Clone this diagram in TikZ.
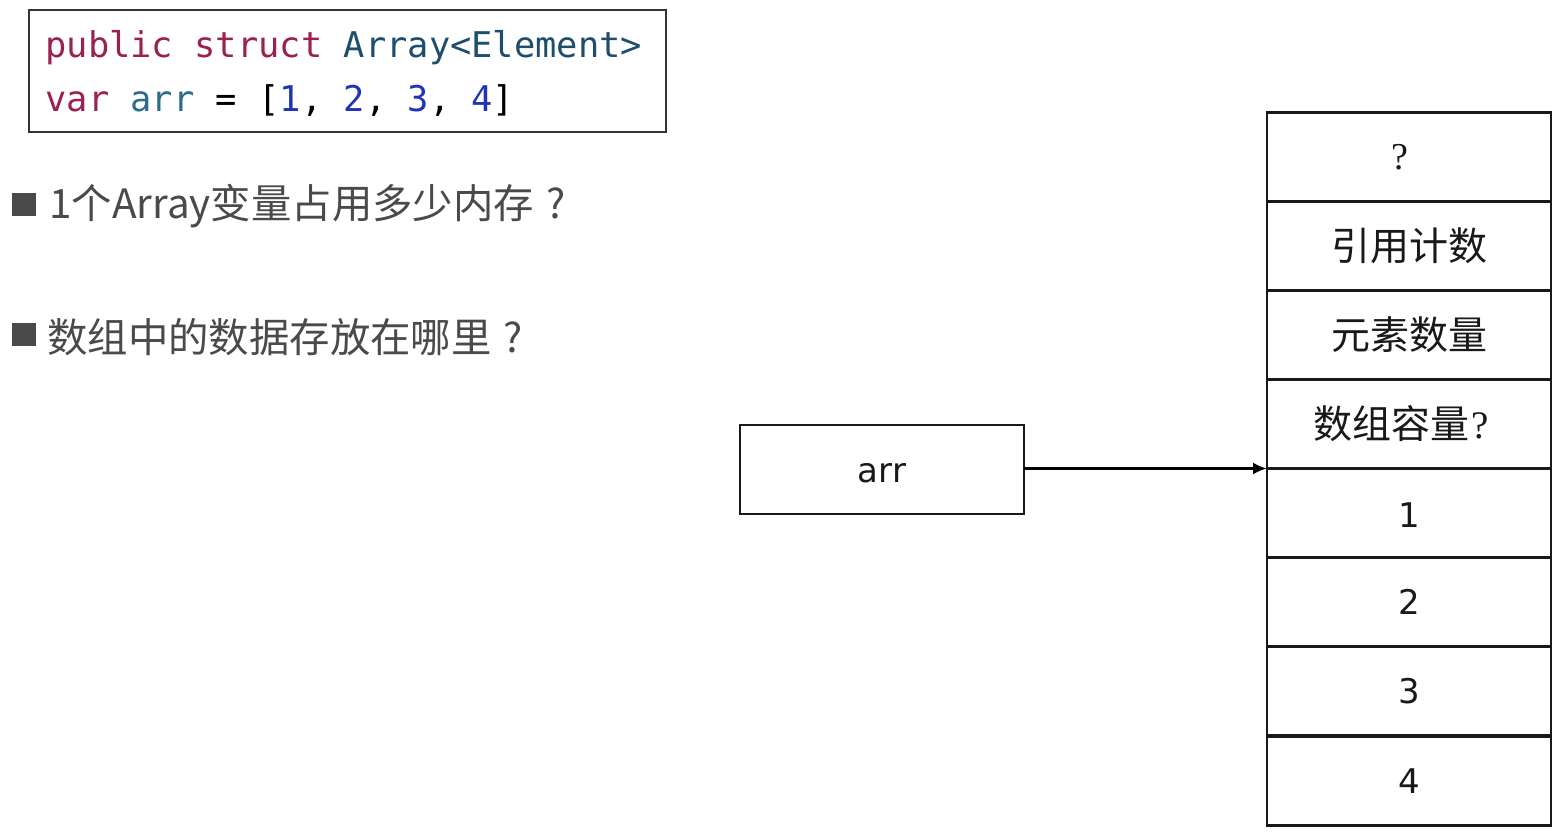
\documentclass[tikz,border=0pt]{standalone}
\usepackage{fontspec}
\usetikzlibrary{arrows.meta}
\newfontfamily\cjk{Noto Sans CJK SC}
\newfontfamily\codefont{DejaVu Sans Mono}
\newfontfamily\latfont{DejaVu Sans}
\newfontfamily\seriffont{Liberation Serif}
\definecolor{kw}{HTML}{9B2152}
\definecolor{ty}{HTML}{1D4E6C}
\definecolor{idc}{HTML}{2C6C8C}
\definecolor{num}{HTML}{2233BB}
\definecolor{gtext}{HTML}{4A4A4A}
\begin{document}
\begin{tikzpicture}[x=0.5pt,y=-0.5pt,
  cell/.style={draw=black!90, line width=1.1pt, minimum width=142pt, minimum height=44.5pt, inner sep=0pt, outer sep=0pt, text=black!90},
  cjktext/.style={font=\cjk\fontsize{19.5pt}{22pt}\selectfont},
  numtext/.style={font=\latfont\fontsize{17pt}{20pt}\selectfont},
  bullet/.style={fill=gtext, draw=none, minimum width=12pt, minimum height=11.5pt, inner sep=0pt},
  btext/.style={anchor=west, inner sep=0pt, text=gtext, font=\cjk\fontsize{20.2pt}{22pt}\selectfont},
  codeline/.style={anchor=base west, inner sep=0pt, font=\codefont\fontsize{17.7pt}{20pt}\selectfont}
]
\useasboundingbox (0,0) rectangle (1560,834);
\fill[white] (0,0) rectangle (1560,834);

% code box
\node[draw=black!80, line width=0.8pt, minimum width=318.5pt, minimum height=61pt, inner sep=0pt, anchor=north west] (codebox) at (28,9) {};
\node[codeline] (code1) at (45,58) {\textcolor{kw}{public struct} \textcolor{ty}{Array<Element>}};
\node[codeline] (code2) at (45,112) {\textcolor{kw}{var} \textcolor{idc}{arr} = [\textcolor{num}{1}, \textcolor{num}{2}, \textcolor{num}{3}, \textcolor{num}{4}]};

% bullets
\node[bullet] (b1) at (24,204.5) {};
\node[btext] (t1) at (49,206) {1个Array变量占用多少内存\hspace{6pt}?};
\node[bullet] (b2) at (24,335) {};
\node[btext] (t2) at (47,337) {数组中的数据存放在哪里\hspace{6pt}?};

% memory cells
\node[cell] (c0) at (1409,157) {\hspace*{-9pt}\seriffont\fontsize{19pt}{22pt}\selectfont ?};
\node[cell, cjktext] (c1) at (1409,246) {引用计数};
\node[cell, cjktext] (c2) at (1409,335) {元素数量};
\node[cell, cjktext] (c3) at (1409,424) {\hspace*{-8pt}数组容量\hspace{1pt}\seriffont ?};
\node[cell, numtext] (c4) at (1409,513) {\raisebox{-1pt}[\height][\depth]{1}};
\node[cell, numtext] (c5) at (1409,602) {2};
\node[cell, numtext] (c6) at (1409,691) {3};
\node[cell, numtext] (c7) at (1409,781) {4};

% arr box
\node[cell, numtext] (arr) at (882,469.5) {\raisebox{-2pt}[\height][\depth]{arr}};

\draw[line width=1.2pt, -{Latex[length=7pt,width=6pt]}] (arr.east |- c4.north) -- (c4.north west);
\end{tikzpicture}
\end{document}
